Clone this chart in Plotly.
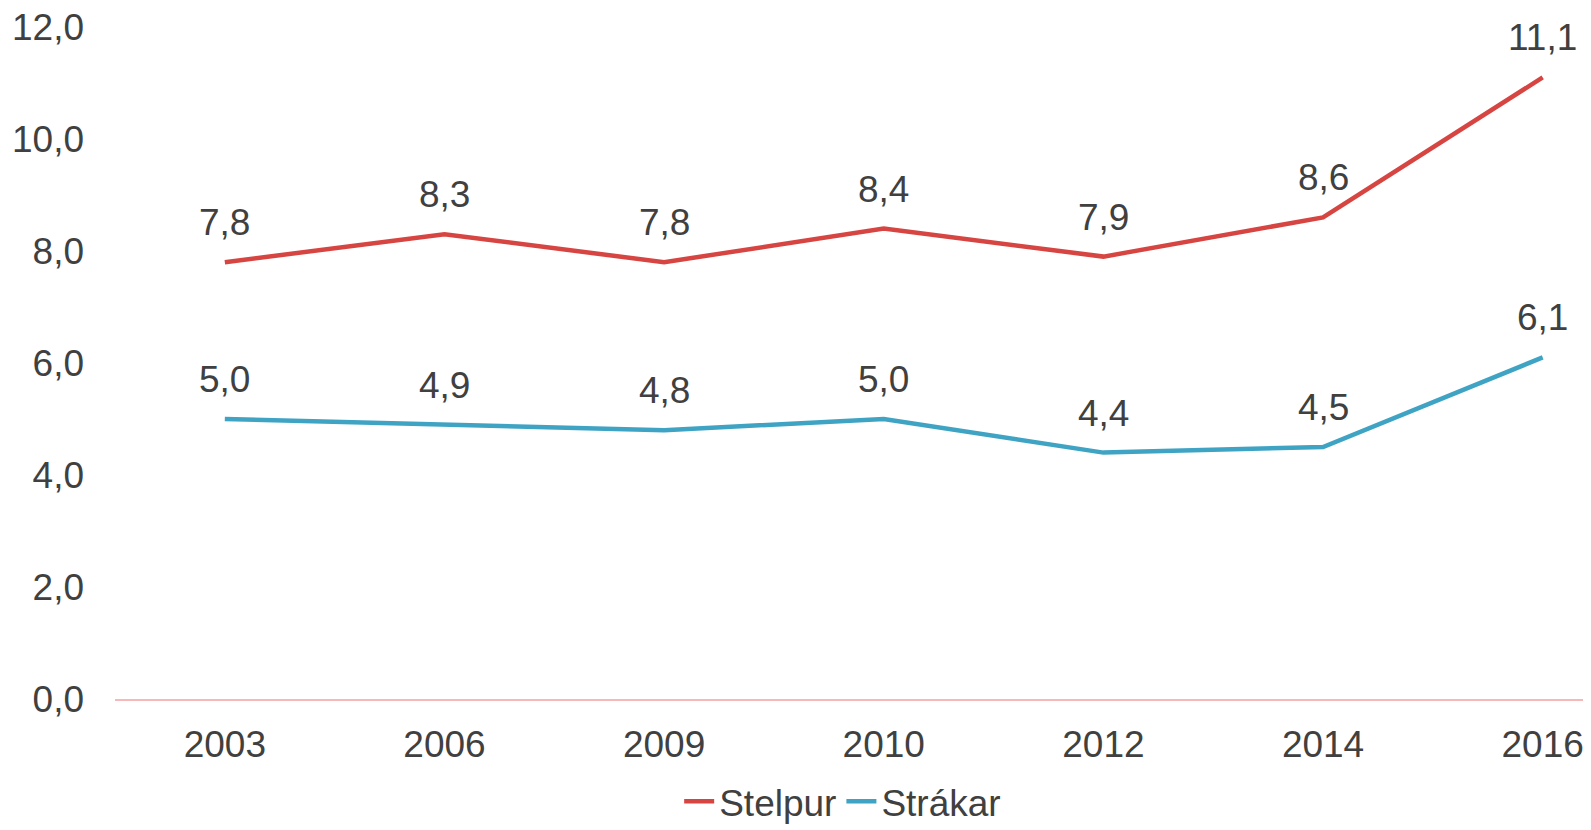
import plotly.graph_objects as go

years = ["2003", "2006", "2009", "2010", "2012", "2014", "2016"]
stelpur = [7.8, 8.3, 7.8, 8.4, 7.9, 8.6, 11.1]
strakar = [5.0, 4.9, 4.8, 5.0, 4.4, 4.5, 6.1]

font_family = "Liberation Sans, Arial, sans-serif"
text_color = "#404040"
fs = 37

series = [("Stelpur", stelpur, "#D64541"), ("Strákar", strakar, "#3FA3C4")]

fig = go.Figure()
for name, vals, col in series:
    fig.add_trace(go.Scatter(
        x=years, y=vals, name=name, mode="lines",
        line=dict(color=col, width=4.5),
    ))
    for i, yv in enumerate(vals):
        fig.add_annotation(
            x=i, y=yv, xref="x", yref="y",
            text=f"{yv:.1f}".replace(".", ","), showarrow=False,
            yanchor="bottom", xanchor="center", yshift=17,
            font=dict(size=fs, color=text_color, family=font_family),
        )

fig.update_layout(
    width=1583, height=822,
    margin=dict(l=107, r=0, t=19, b=131, autoexpand=False),
    paper_bgcolor="white", plot_bgcolor="white",
    separators=",.",
    font=dict(family=font_family, size=fs, color=text_color),
    showlegend=True,
    legend=dict(orientation="h", x=0.493, xanchor="center", y=-0.153, yanchor="middle",
                font=dict(size=fs, color=text_color), traceorder="normal"),
    xaxis=dict(type="category", range=[-0.5, 6.22], showgrid=False, showline=True,
               linecolor="#F6B8B8", linewidth=2, ticks="", tickfont=dict(size=fs),
               zeroline=False, automargin=False, ticklabelstandoff=12,
               ticklabeloverflow="allow"),
    yaxis=dict(range=[0, 12], tickvals=[0, 2, 4, 6, 8, 10, 12], tickformat=".1f",
               showgrid=False, zeroline=False, showline=False, ticks="",
               tickfont=dict(size=fs), ticklabelstandoff=30, automargin=False,
               ticklabeloverflow="allow"),
)

fig.write_html("out.html")
